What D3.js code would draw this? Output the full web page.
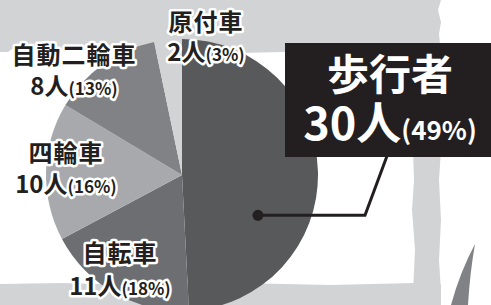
<!DOCTYPE html>
<html>
<head>
<meta charset="utf-8">
<script src="https://cdn.jsdelivr.net/npm/d3@7"></script>
<style>
  body { margin: 0; background: #fff; }
  svg { display: block; }
  text { font-family: "Noto Sans CJK JP", "Noto Sans", sans-serif; font-weight: 700; }
</style>
</head>
<body>
<script>
// data
var categories = ['歩行者', '自転車', '四輪車', '自動二輪車', '原付車'];
var counts = [30, 11, 10, 8, 2];
var percents = [49, 18, 16, 13, 3];

var colors = ['#58595b', '#6d6e71', '#a7a9ac', '#808285', '#d1d3d4'];

/* ===== setup ===== */

var w = 491;
var h = 305;
var cx = 182;
var cy = 175;
var r = 136;

var svg = d3.select('body')
  .append('svg')
  .attr('width', w)
  .attr('height', h);

/* ===== background shapes ===== */

var bg = svg.append('g').attr('fill', '#d1d3d4');

bg.append('path')
  .attr('d', 'M0,0 L441,0 L438,10 L441,22 L439,34 L440,44 L300,44 L285,52 L240,53 ' +
    'L180,50 L120,49 L60,50 L12,49 L8,52 L0,52 Z');
bg.append('path')
  .attr('d', 'M413,150 L441,150 L439,180 L441,220 L439,260 L441,292 L413,292 L415,250 L412,210 L414,180 Z');
bg.append('path')
  .attr('d', 'M0,284 L60,283 L140,285 L240,283 L330,285 L415,283 L441,284 L441,305 L0,305 Z');

svg.append('path')
  .attr('fill', '#808285')
  .attr('d', 'M475,244 Q460,272 451,305 L468,305 Q470,272 475,244 Z');

/* ===== pie ===== */

var pie = d3.pie().sort(null).value(function(d) { return d; });
var arc = d3.arc().innerRadius(0).outerRadius(r);

var slices = svg.append('g')
  .attr('transform', 'translate(' + cx + ',' + cy + ')');

slices.selectAll('path')
  .data(pie(counts))
  .enter()
  .append('path')
  .attr('d', arc)
  .attr('fill', function(d, i) { return colors[i]; });

/* ===== leader line + callout box ===== */

var dot = d3.pointRadial(118 * Math.PI / 180, 86);
var dx = cx + dot[0];
var dy = cy + dot[1];

svg.append('rect')
  .attr('x', 285)
  .attr('y', 43)
  .attr('width', 206)
  .attr('height', 114)
  .attr('fill', '#231f20');

svg.append('path')
  .attr('d', 'M' + dx + ',' + dy + ' L365,' + dy + ' L387,156')
  .attr('fill', 'none')
  .attr('stroke', '#231f20')
  .attr('stroke-width', 3)
  .attr('stroke-linejoin', 'miter');

svg.append('circle')
  .attr('cx', dx)
  .attr('cy', dy)
  .attr('r', 5.5)
  .attr('fill', '#231f20');

svg.append('text')
  .attr('x', 390)
  .attr('y', 90)
  .attr('text-anchor', 'middle')
  .attr('fill', '#fff')
  .style('font-size', '42px')
  .text(categories[0]);

var big = svg.append('text')
  .attr('x', 390)
  .attr('y', 140)
  .attr('text-anchor', 'middle')
  .attr('fill', '#fff');
big.append('tspan').style('font-size', '45px').text(counts[0] + '人');
big.append('tspan').style('font-size', '26px').text('(' + percents[0] + '%)');

/* ===== small labels ===== */

// label centres and baselines for slices 1..4
var labelPos = [null,
  { x: 120, y1: 262, y2: 295 },
  { x: 66, y1: 162, y2: 193 },
  { x: 74, y1: 64, y2: 95 },
  { x: 206, y1: 31, y2: 61 }
];

var labels = svg.append('g');

for (var i = 1; i < categories.length; i++) {
  var p = labelPos[i];

  labels.append('text')
    .attr('x', p.x)
    .attr('y', p.y1)
    .attr('text-anchor', 'middle')
    .attr('fill', '#231f20')
    .attr('stroke', '#fff')
    .attr('stroke-width', 5)
    .attr('stroke-linejoin', 'round')
    .attr('paint-order', 'stroke')
    .style('font-size', '24px')
    .style('letter-spacing', '1px')
    .text(categories[i]);

  var t = labels.append('text')
    .attr('x', p.x)
    .attr('y', p.y2)
    .attr('text-anchor', 'middle')
    .attr('fill', '#231f20')
    .attr('stroke', '#fff')
    .attr('stroke-width', 5)
    .attr('stroke-linejoin', 'round')
    .attr('paint-order', 'stroke');
  t.append('tspan').style('font-size', '24px').text(counts[i] + '人');
  t.append('tspan').style('font-size', '17px').text('(' + percents[i] + '%)');
}
</script>
</body>
</html>
